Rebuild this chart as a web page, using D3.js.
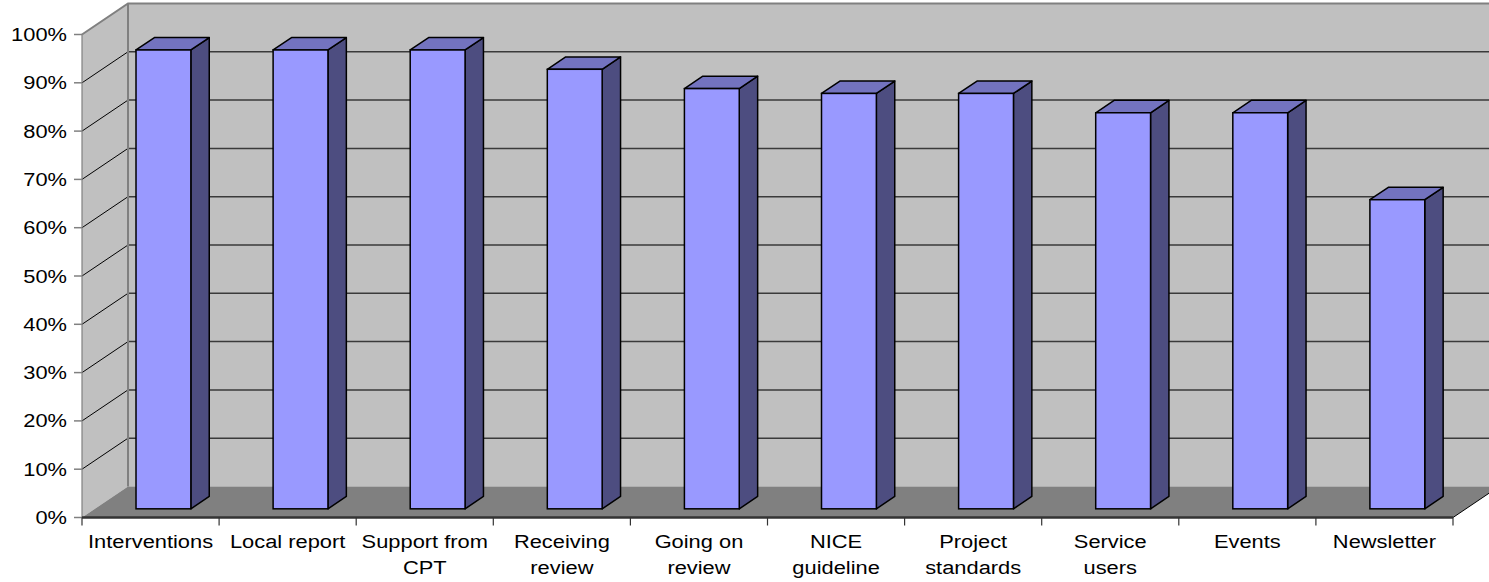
<!DOCTYPE html>
<html>
<head>
<meta charset="utf-8">
<script src="https://cdn.jsdelivr.net/npm/d3@7"></script>
<style>
  html, body { margin: 0; padding: 0; background: #ffffff; }
  svg { display: block; }
  text { font-family: "Liberation Sans", Arial, sans-serif; fill: #000; }
</style>
</head>
<body>
<svg id="chart" width="1489" height="582"></svg>
<script>
// Survey results: share of respondents per item
const categories = [
  "Interventions", "Local report", "Support from CPT", "Receiving review",
  "Going on review", "NICE guideline", "Project standards", "Service users",
  "Events", "Newsletter"
];
const tickLabels = [
  ["Interventions"], ["Local report"], ["Support from", "CPT"], ["Receiving", "review"],
  ["Going on", "review"], ["NICE", "guideline"], ["Project", "standards"], ["Service", "users"],
  ["Events"], ["Newsletter"]
];
const values = [0.95, 0.95, 0.95, 0.91, 0.87, 0.86, 0.86, 0.82, 0.82, 0.64];
const yTicks = [0, 0.1, 0.2, 0.3, 0.4, 0.5, 0.6, 0.7, 0.8, 0.9, 1.0];

const svg = d3.select("#chart");

// Front plane geometry and the oblique depth vector of the 3-D box
const y = d3.scaleLinear().domain([0, 1]).range([517.5, 34.5]);
const x = d3.scaleBand().domain(categories).range([82, 1453])
  .paddingInner(0.6).paddingOuter(0.3);
const xCat = d3.scaleBand().domain(categories).range([82, 1453]);
const DX = 46, DY = -31;          // full depth of the plot box
const front = 0.28, depth = 0.40; // bar position within that depth
const STRETCH = 1.15;             // horizontal scaling of the text
const FONT = "19px";

const x0 = 82, x1 = 1453;
const pt = (px, py) => px + "," + py;

// Left side wall
svg.append("polygon")
  .attr("points", [pt(x0, y(0)), pt(x0, y(1)), pt(x0 + DX, y(1) + DY), pt(x0 + DX, y(0) + DY)].join(" "))
  .attr("fill", "#c0c0c0");
// Back wall
svg.append("polygon")
  .attr("points", [pt(x0 + DX, y(1) + DY), pt(x1 + DX, y(1) + DY), pt(x1 + DX, y(0) + DY), pt(x0 + DX, y(0) + DY)].join(" "))
  .attr("fill", "#c0c0c0");
// Floor
svg.append("polygon")
  .attr("points", [pt(x0, y(0)), pt(x1, y(0)), pt(x1 + DX, y(0) + DY), pt(x0 + DX, y(0) + DY)].join(" "))
  .attr("fill", "#808080");

// Gridlines: diagonal on the side wall, horizontal on the back wall
const grid = yTicks.filter(t => t > 0 && t < 1);
svg.append("g").selectAll("line").data(grid).join("line")
  .attr("x1", x0).attr("y1", d => y(d))
  .attr("x2", x0 + DX).attr("y2", d => y(d) + DY)
  .attr("stroke", "#000").attr("stroke-width", 1);
svg.append("g").selectAll("line").data(grid).join("line")
  .attr("x1", x0 + DX).attr("y1", d => y(d) + DY)
  .attr("x2", x1 + DX).attr("y2", d => y(d) + DY)
  .attr("stroke", "#3a3a3a").attr("stroke-width", 1.5);

// Wall edges
svg.append("path")
  .attr("d", `M${x0},${y(1)}L${x0 + DX},${y(1) + DY}L${x1 + DX},${y(1) + DY}`)
  .attr("fill", "none").attr("stroke", "#808080").attr("stroke-width", 2);
svg.append("line")
  .attr("x1", x0 + DX).attr("y1", y(1) + DY).attr("x2", x0 + DX).attr("y2", y(0) + DY)
  .attr("stroke", "#808080").attr("stroke-width", 2);
svg.append("line")
  .attr("x1", x1).attr("y1", y(0)).attr("x2", x1 + DX).attr("y2", y(0) + DY)
  .attr("stroke", "#000").attr("stroke-width", 1);

// Bars as oblique boxes
const fx = DX * front, fy = DY * front;
const bx = DX * depth, by = DY * depth;
const bars = svg.append("g").selectAll("g").data(categories).join("g");
bars.each(function (c, i) {
  const g = d3.select(this);
  const L = x(c) + fx, R = x(c) + x.bandwidth() + fx;
  const T = y(values[i]) + fy, B = y(0) + fy;
  // side face
  g.append("polygon")
    .attr("points", [pt(R, B), pt(R, T), pt(R + bx, T + by), pt(R + bx, B + by)].join(" "))
    .attr("fill", "#4d4d80").attr("stroke", "#000").attr("stroke-width", 1.5).attr("stroke-linejoin", "round");
  // top face
  g.append("polygon")
    .attr("points", [pt(L, T), pt(R, T), pt(R + bx, T + by), pt(L + bx, T + by)].join(" "))
    .attr("fill", "#7373bf").attr("stroke", "#000").attr("stroke-width", 1.5).attr("stroke-linejoin", "round");
  // front face
  g.append("rect")
    .attr("x", L).attr("y", T).attr("width", R - L).attr("height", B - T)
    .attr("fill", "#9999ff").attr("stroke", "#000").attr("stroke-width", 1.5);
});

// Value axis
svg.append("line")
  .attr("x1", x0).attr("y1", y(0)).attr("x2", x0).attr("y2", y(1))
  .attr("stroke", "#808080").attr("stroke-width", 1.2);
const yAxis = svg.append("g");
yAxis.selectAll("line").data(yTicks).join("line")
  .attr("x1", x0 - 8).attr("x2", x0).attr("y1", d => y(d)).attr("y2", d => y(d))
  .attr("stroke", "#808080").attr("stroke-width", 1.5);
const pct = d3.format(".0%");
yAxis.selectAll("text").data(yTicks).join("text")
  .attr("transform", d => `translate(67,${y(d) + 6.5}) scale(${STRETCH},1)`)
  .attr("text-anchor", "end")
  .style("font-size", FONT)
  .text(d => pct(d));

// Category axis
svg.append("line")
  .attr("x1", x0).attr("y1", y(0)).attr("x2", x1).attr("y2", y(0))
  .attr("stroke", "#333").attr("stroke-width", 2.5);
const bounds = categories.map(c => xCat(c)).concat([x1]);
svg.append("g").selectAll("line").data(bounds).join("line")
  .attr("x1", d => d).attr("x2", d => d).attr("y1", y(0)).attr("y2", y(0) + 8)
  .attr("stroke", "#333").attr("stroke-width", 1.2);
const labels = svg.append("g").selectAll("text").data(categories).join("text")
  .attr("transform", c => `translate(${xCat(c) + xCat.bandwidth() / 2},548) scale(${STRETCH},1)`)
  .attr("text-anchor", "middle")
  .style("font-size", FONT);
labels.each(function (c, i) {
  d3.select(this).selectAll("tspan").data(tickLabels[i]).join("tspan")
    .attr("x", 0).attr("dy", (d, j) => j === 0 ? 0 : 26)
    .text(d => d);
});
</script>
</body>
</html>
